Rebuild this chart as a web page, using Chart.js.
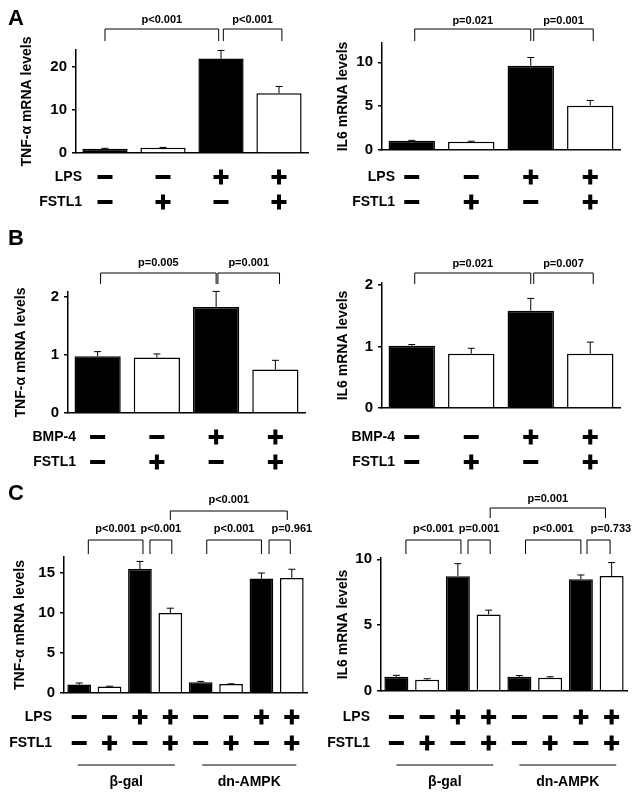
<!DOCTYPE html>
<html>
<head>
<meta charset="utf-8">
<script src="https://cdn.jsdelivr.net/npm/chart.js@4.4.0/dist/chart.umd.min.js"></script>
<style>
body { margin: 0; background: #fff; }
#fig { position: relative; width: 638px; height: 796px; }
canvas { position: absolute; }
</style>
</head>
<body>
<div id="fig">
  <canvas id="aLeft" width="319" height="220" style="left:0;top:0"></canvas>
  <canvas id="aRight" width="319" height="220" style="left:319px;top:0"></canvas>
  <canvas id="bLeft" width="319" height="260" style="left:0;top:220px"></canvas>
  <canvas id="bRight" width="319" height="260" style="left:319px;top:220px"></canvas>
  <canvas id="cLeft" width="319" height="316" style="left:0;top:480px"></canvas>
  <canvas id="cRight" width="319" height="316" style="left:319px;top:480px"></canvas>
</div>
<script>
// ---- data ----
const lps4 = ['-', '-', '+', '+'];
const fstl4 = ['-', '+', '-', '+'];
const bmp4 = ['-', '-', '+', '+'];
const lps8 = ['-', '-', '+', '+', '-', '-', '+', '+'];
const fstl8 = ['-', '+', '-', '+', '-', '+', '-', '+'];
const groupsC = ['β-gal', 'dn-AMPK'];

const tnfA = [1.0, 1.2, 22.0, 13.9];
const tnfAErr = [0.1, 0.1, 1.9, 1.6];
const il6A = [1.05, 0.95, 9.6, 5.05];
const il6AErr = [0.05, 0.05, 0.95, 0.6];

const tnfB = [0.98, 0.96, 1.83, 0.75];
const tnfBErr = [0.08, 0.06, 0.27, 0.16];
const il6B = [1.01, 0.88, 1.58, 0.88];
const il6BErr = [0.02, 0.09, 0.2, 0.19];

const tnfC = [1.05, 0.8, 15.5, 10.0, 1.33, 1.12, 14.3, 14.37];
const tnfCErr = [0.2, 0.05, 0.95, 0.6, 0.12, 0.03, 0.7, 1.1];
const il6C = [1.08, 0.86, 8.71, 5.81, 1.08, 1.01, 8.48, 8.73];
const il6CErr = [0.11, 0.07, 0.96, 0.33, 0.09, 0.07, 0.33, 1.02];

const pTnfA = ['p<0.001', 'p<0.001'];
const pIl6A = ['p=0.021', 'p=0.001'];
const pTnfB = ['p=0.005', 'p=0.001'];
const pIl6B = ['p=0.021', 'p=0.007'];
const pTnfC = ['p<0.001', 'p<0.001', 'p<0.001', 'p=0.961', 'p<0.001'];
const pIl6C = ['p<0.001', 'p=0.001', 'p<0.001', 'p=0.733', 'p=0.001'];

const ticksTnfA = [0, 10, 20];
const ticksIl6A = [0, 5, 10];
const ticksB = [0, 1, 2];
const ticksTnfC = [0, 5, 10, 15];
const ticksIl6C = [0, 5, 10];

const FONT = "'Liberation Sans', Arial, Helvetica, sans-serif";
Chart.defaults.font.family = FONT;
Chart.defaults.color = '#000';

// panel settings, looked up by canvas id
const panels = {};

// draws error bars, brackets, +/- rows, group lines and panel letters
const annotate = {
    id: 'annotate',
    afterDatasetsDraw(chart) {
        const p = panels[chart.canvas.id];
        const ctx = chart.ctx;
        const x = chart.scales.x, y = chart.scales.y;
        const bars = chart.getDatasetMeta(0).data;
        ctx.save();
        ctx.strokeStyle = '#000';
        ctx.fillStyle = '#000';
        ctx.lineWidth = 1;
        // error bars (upper only)
        p.values.forEach((v, i) => {
            const bx = bars[i].x;
            const y0 = y.getPixelForValue(v);
            const y1 = y.getPixelForValue(v + p.errors[i]);
            ctx.beginPath();
            ctx.moveTo(bx, y0);
            ctx.lineTo(bx, y1);
            ctx.moveTo(bx - 3.5, y1);
            ctx.lineTo(bx + 3.5, y1);
            ctx.stroke();
        });
        // significance brackets
        ctx.font = 'bold 11px ' + FONT;
        ctx.textAlign = 'center';
        ctx.textBaseline = 'middle';
        p.brackets.forEach((b, i) => {
            const x1 = x.getPixelForValue(b.from), x2 = x.getPixelForValue(b.to);
            ctx.beginPath();
            ctx.moveTo(x1, b.leg);
            ctx.lineTo(x1, b.y);
            ctx.lineTo(x2, b.y);
            ctx.lineTo(x2, b.leg);
            ctx.stroke();
            const tx = x.getPixelForValue((b.from + b.to) / 2 + (b.shift || 0));
            ctx.fillText(p.pvalues[i], tx, b.textY);
        });
        // +/- rows
        ctx.font = 'bold 14px ' + FONT;
        ctx.textAlign = 'right';
        p.rows.forEach((r, k) => {
            ctx.fillText(r.label, p.labelRight, p.rowY[k]);
            r.signs.forEach((s, i) => {
                const sx = bars[i].x, sy = p.rowY[k];
                ctx.fillRect(sx - 7.5, sy - 2, 15, 4);
                if (s == '+') ctx.fillRect(sx - 2, sy - 7.5, 4, 15);
            });
        });
        // group lines
        if (p.groups) {
            ctx.textAlign = 'center';
            p.groups.forEach((g, i) => {
                const x1 = x.getPixelForValue(g.from), x2 = x.getPixelForValue(g.to);
                ctx.beginPath();
                ctx.moveTo(x1, p.groupY);
                ctx.lineTo(x2, p.groupY);
                ctx.stroke();
                ctx.fillText(groupsC[i], (x1 + x2) / 2, p.groupTextY);
            });
        }
        // panel letter
        if (p.letter) {
            ctx.font = 'bold 22px ' + FONT;
            ctx.textAlign = 'left';
            ctx.textBaseline = 'alphabetic';
            ctx.fillText(p.letter, 8, p.letterY);
        }
        ctx.restore();
    }
};

function makePanel(p) {
    panels[p.id] = p;
    const canvas = document.getElementById(p.id);
    const W = canvas.width, H = canvas.height;
    new Chart(canvas, {
        type: 'bar',
        data: {
            labels: p.values.map((v, i) => 'c' + i),
            datasets: [{
                data: p.values,
                backgroundColor: p.fill.map(s => s == '+' ? '#fff' : '#000'),
                borderColor: '#000',
                borderWidth: 1.5,
                barPercentage: 0.78,
                categoryPercentage: 1
            }]
        },
        options: {
            responsive: false,
            animation: false,
            layout: { padding: { left: 0, top: p.area.top, right: W - p.area.right, bottom: 0 } },
            plugins: {
                legend: { display: false },
                tooltip: { enabled: false }
            },
            scales: {
                x: {
                    grid: { display: false },
                    ticks: { display: false },
                    border: { color: '#000', width: 1.5 },
                    afterFit: s => { s.height = H - p.area.bottom; }
                },
                y: {
                    min: 0,
                    max: p.yMax,
                    afterBuildTicks: s => { s.ticks = p.ticks.map(v => ({ value: v })); },
                    afterFit: s => { s.width = p.area.left; },
                    grid: { drawOnChartArea: false, tickLength: 4, color: '#000', lineWidth: 1.5 },
                    border: { color: '#000', width: 1.5 },
                    ticks: { font: { size: 15, weight: 'bold' }, color: '#000', padding: 5 },
                    title: {
                        display: true,
                        text: p.title,
                        color: '#000',
                        font: { size: 14, weight: 'bold' },
                        padding: { top: p.titleX - 8.4, bottom: 0 }
                    }
                }
            }
        },
        plugins: [annotate]
    });
}

makePanel({
    id: 'aLeft', letter: 'A', letterY: 25,
    values: tnfA, errors: tnfAErr, fill: fstl4, ticks: ticksTnfA, yMax: 24,
    title: 'TNF-α mRNA levels', titleX: 27.5,
    area: { left: 76, top: 50, right: 308, bottom: 153 },
    pvalues: pTnfA,
    brackets: [
        { from: 0, to: 1.96, y: 29, leg: 41, textY: 20 },
        { from: 2.04, to: 3.05, y: 29, leg: 41, textY: 20 }
    ],
    rows: [{ label: 'LPS', signs: lps4 }, { label: 'FSTL1', signs: fstl4 }],
    rowY: [177, 202], labelRight: 82
});

makePanel({
    id: 'aRight',
    values: il6A, errors: il6AErr, fill: fstl4, ticks: ticksIl6A, yMax: 12.2,
    title: 'IL6 mRNA levels', titleX: 24,
    area: { left: 63, top: 43, right: 301, bottom: 150 },
    pvalues: pIl6A,
    brackets: [
        { from: 0.05, to: 2, y: 29, leg: 41, textY: 21 },
        { from: 2.05, to: 3.05, y: 29, leg: 41, textY: 21 }
    ],
    rows: [{ label: 'LPS', signs: lps4 }, { label: 'FSTL1', signs: fstl4 }],
    rowY: [177, 202], labelRight: 76
});

makePanel({
    id: 'bLeft', letter: 'B', letterY: 25,
    values: tnfB, errors: tnfBErr, fill: fstl4, ticks: ticksB, yMax: 2.09,
    title: 'TNF-α mRNA levels', titleX: 21,
    area: { left: 68, top: 72, right: 305, bottom: 193 },
    pvalues: pTnfB,
    brackets: [
        { from: 0.05, to: 2, y: 53, leg: 64, textY: 43 },
        { from: 2.03, to: 3.07, y: 53, leg: 64, textY: 43 }
    ],
    rows: [{ label: 'BMP-4', signs: bmp4 }, { label: 'FSTL1', signs: fstl4 }],
    rowY: [217, 242], labelRight: 76
});

makePanel({
    id: 'bRight',
    values: il6B, errors: il6BErr, fill: fstl4, ticks: ticksB, yMax: 2.03,
    title: 'IL6 mRNA levels', titleX: 24,
    area: { left: 63, top: 63, right: 301, bottom: 188 },
    pvalues: pIl6B,
    brackets: [
        { from: 0.05, to: 2, y: 53, leg: 64, textY: 44 },
        { from: 2.05, to: 3.05, y: 53, leg: 64, textY: 44 }
    ],
    rows: [{ label: 'BMP-4', signs: bmp4 }, { label: 'FSTL1', signs: fstl4 }],
    rowY: [217, 242], labelRight: 76
});

makePanel({
    id: 'cLeft', letter: 'C', letterY: 20,
    values: tnfC, errors: tnfCErr, fill: fstl8, ticks: ticksTnfC, yMax: 17,
    title: 'TNF-α mRNA levels', titleX: 20,
    area: { left: 64, top: 77, right: 307, bottom: 213 },
    pvalues: pTnfC,
    brackets: [
        { from: 0.3, to: 2.1, y: 60, leg: 74, textY: 49 },
        { from: 2.33, to: 3.05, y: 60, leg: 74, textY: 49 },
        { from: 4.2, to: 6.0, y: 60, leg: 74, textY: 49 },
        { from: 6.25, to: 6.95, y: 60, leg: 74, textY: 49, shift: 0.4 },
        { from: 3.0, to: 6.85, y: 31, leg: 40, textY: 20 }
    ],
    rows: [{ label: 'LPS', signs: lps8 }, { label: 'FSTL1', signs: fstl8 }],
    rowY: [237, 263], labelRight: 52,
    groups: [{ from: -0.05, to: 3.15 }, { from: 4.05, to: 7.15 }],
    groupY: 285, groupTextY: 302
});

makePanel({
    id: 'cRight',
    values: il6C, errors: il6CErr, fill: fstl8, ticks: ticksIl6C, yMax: 10.1,
    title: 'IL6 mRNA levels', titleX: 24,
    area: { left: 62, top: 78, right: 308, bottom: 211 },
    pvalues: pIl6C,
    brackets: [
        { from: 0.31, to: 2.1, y: 60, leg: 74, textY: 49 },
        { from: 2.33, to: 3.05, y: 60, leg: 74, textY: 49 },
        { from: 4.2, to: 6.0, y: 60, leg: 74, textY: 49 },
        { from: 6.2, to: 6.95, y: 60, leg: 74, textY: 49, shift: 0.4 },
        { from: 3.05, to: 6.8, y: 28, leg: 38, textY: 19 }
    ],
    rows: [{ label: 'LPS', signs: lps8 }, { label: 'FSTL1', signs: fstl8 }],
    rowY: [237, 263], labelRight: 51,
    groups: [{ from: 0, to: 3.15 }, { from: 4.0, to: 7.15 }],
    groupY: 285, groupTextY: 302
});
</script>
</body>
</html>
